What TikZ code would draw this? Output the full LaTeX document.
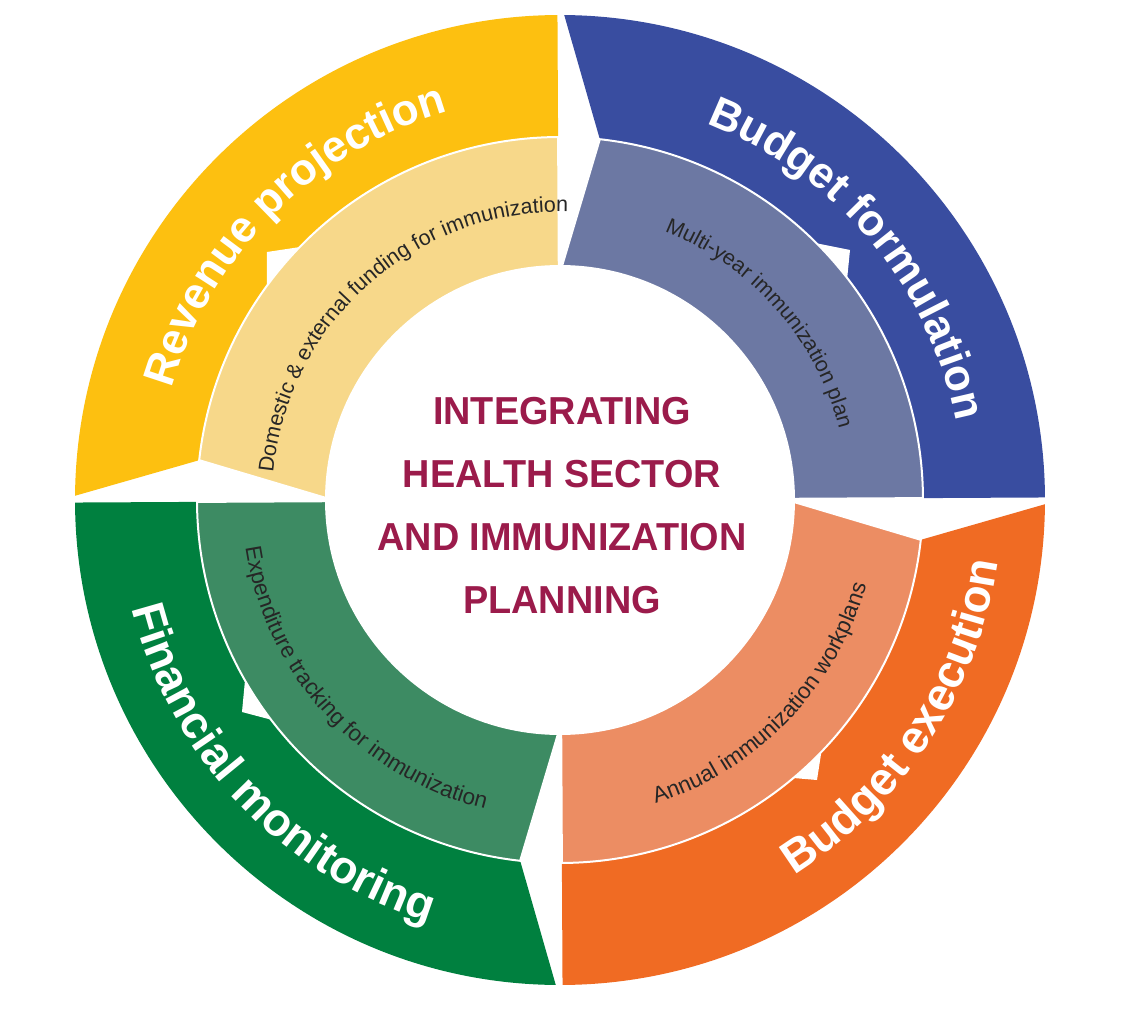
\documentclass[tikz,border=0pt]{standalone}
\usepackage{fontspec}
\setmainfont{Liberation Sans}
\newfontfamily\condfont[FakeStretch=0.97]{Liberation Sans}
\usetikzlibrary{decorations.text}
\definecolor{yelO}{HTML}{FDC010}
\definecolor{yelI}{HTML}{F7D88A}
\definecolor{bluO}{HTML}{394DA0}
\definecolor{bluI}{HTML}{6C78A3}
\definecolor{orO}{HTML}{F06B23}
\definecolor{orI}{HTML}{EC8D63}
\definecolor{grO}{HTML}{00803F}
\definecolor{grI}{HTML}{3D8B63}
\definecolor{titleC}{HTML}{9B1B4B}
\newcommand\ringOuterSeg[2]{%
  \fill[#2] (#1-0.5:485pt) arc[start angle=#1-0.5, end angle=#1-89.7, radius=485pt]
    -- (#1-89.7:363pt) arc[start angle=#1-89.7, end angle=#1-6.3, radius=363pt] -- cycle;}
\newcommand\ringInnerSeg[2]{%
  \filldraw[fill=#2, draw=white, line width=2pt] (#1-6.3:363pt) arc[start angle=#1-6.3, end angle=#1-89.7, radius=363pt]
    -- (#1-89.7:234pt) arc[start angle=#1-89.7, end angle=#1-0.5, radius=234pt] -- cycle;}
\newcommand\outerfontA{\bfseries\fontsize{44}{50}\selectfont\color{white}}
\newcommand\outerfontB{\bfseries\fontsize{46}{50}\selectfont\color{white}}
\newcommand\innerfontA{\fontsize{21.5}{24}\selectfont\color{black!85}}
\newcommand\innerfontB{\fontsize{22.5}{24}\selectfont\color{black!85}}
\tikzset{
  curvetext/.style={decorate, decoration={text along path, text align=center, text={#1}}},
  tipwhite/.style={fill=white}
}
\begin{document}
\begin{tikzpicture}[x=1pt,y=1pt]
\useasboundingbox[fill=white] (-560,-510) rectangle (580,500);
% outer ring
\ringOuterSeg{180}{yelO}
\ringOuterSeg{90}{bluO}
\ringOuterSeg{0}{orO}
\ringOuterSeg{-90}{grO}
% small white tips
\fill[tipwhite] (-293,248) -- (-240,256) -- (-293,200) -- cycle;
\fill[tipwhite] (290,250) -- (240,260) -- (285,200) -- cycle;
\fill[tipwhite] (257,-280) -- (264,-235) -- (210,-276) -- cycle;
\fill[tipwhite] (-318,-212) -- (-314,-170) -- (-265,-226) -- cycle;
% inner ring
\ringInnerSeg{180}{yelI}
\ringInnerSeg{90}{bluI}
\ringInnerSeg{0}{orI}
\ringInnerSeg{-90}{grI}
% outer texts
\path[curvetext={|\outerfontA|Revenue projection}] (175:404pt) arc[start angle=175, end angle=95, radius=404pt];
\path[curvetext={|\outerfontA|Budget formulation}] (80:404pt) arc[start angle=80, end angle=0, radius=404pt];
\path[curvetext={|\outerfontB|Budget execution}] (-73:442pt) arc[start angle=-73, end angle=7, radius=442pt];
\path[curvetext={|\outerfontB|Financial monitoring}] (183.5:442pt) arc[start angle=183.5, end angle=263.5, radius=442pt];
% inner texts
\path[curvetext={|\innerfontA|Domestic {\&} external funding for immunization}] (176:288pt) arc[start angle=176, end angle=87, radius=288pt];
\path[curvetext={|\innerfontA|Multi-year immunization plan}] (86:288pt) arc[start angle=86, end angle=-3, radius=288pt];
\path[curvetext={|\innerfontB|Annual immunization workplans}] (-89:318pt) arc[start angle=-89, end angle=1, radius=318pt];
\path[curvetext={|\innerfontB|Expenditure tracking for immunization}] (177:318pt) arc[start angle=177, end angle=268, radius=318pt];
% centre title
\node[text=titleC, font={\condfont\bfseries\fontsize{39}{63}\selectfont}, align=center] (title) at (2,-6)
  {INTEGRATING\\HEALTH SECTOR\\AND IMMUNIZATION\\PLANNING};
\end{tikzpicture}
\end{document}
